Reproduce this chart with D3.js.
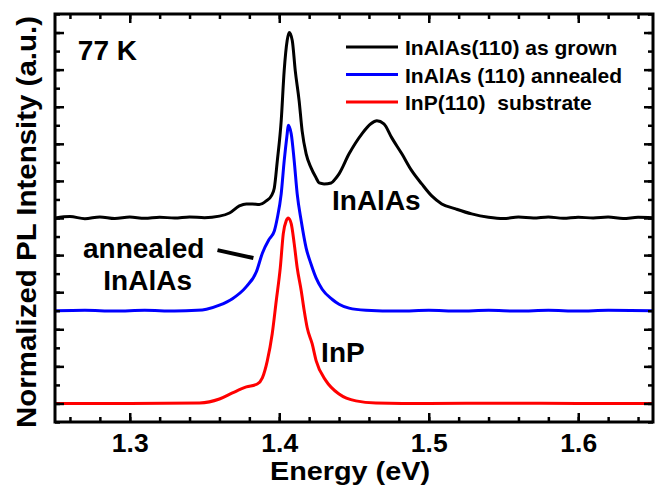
<!DOCTYPE html>
<html>
<head>
<meta charset="utf-8">
<script src="https://cdn.jsdelivr.net/npm/d3@7/dist/d3.min.js"></script>
<style>
  body { margin: 0; background: #fff; }
  text { font-family: "Liberation Sans", Arial, sans-serif; font-weight: bold; fill: #000; }
</style>
</head>
<body>
<div id="chart"></div>
<script>
// PL spectra at 77 K, each normalized to 1 and stacked by an offset
var grownE = [1.25, 1.26, 1.27, 1.28, 1.29, 1.30, 1.31, 1.32, 1.33, 1.34, 1.35, 1.36,
  1.3667, 1.3733, 1.378, 1.382, 1.3867, 1.3913, 1.3947, 1.3967, 1.3987, 1.4013, 1.4033,
  1.4053, 1.4067, 1.4087, 1.4107, 1.4133, 1.4153, 1.418, 1.4213, 1.4247, 1.4267, 1.43,
  1.4347, 1.438, 1.44, 1.4467, 1.4553, 1.4613, 1.4653, 1.47, 1.4753, 1.482, 1.4887,
  1.4953, 1.502, 1.5087, 1.518, 1.5287, 1.54, 1.55, 1.56, 1.57, 1.58, 1.59, 1.60,
  1.61, 1.62, 1.63, 1.64, 1.65];
var grownI = [0.000, 0.008, -0.004, 0.006, -0.003, 0.005, -0.002, 0.004, 0.000, 0.006, 0.002, 0.010,
  0.027, 0.065, 0.076, 0.076, 0.073, 0.092, 0.119, 0.162, 0.308, 0.524, 0.795,
  0.957, 1.000, 0.957, 0.795, 0.632, 0.470, 0.346, 0.270, 0.216, 0.189, 0.184,
  0.189, 0.216, 0.238, 0.346, 0.454, 0.508, 0.524, 0.508, 0.432, 0.346, 0.254,
  0.184, 0.119, 0.076, 0.049, 0.022, 0.004, -0.003, 0.005, 0.000, 0.006, -0.002, 0.004,
  0.000, 0.005, -0.003, 0.004, 0.002];

var annealedE = [1.25, 1.27, 1.29, 1.31, 1.33, 1.345, 1.3513, 1.36, 1.3687, 1.378, 1.3847,
  1.3887, 1.3933, 1.3967, 1.3987, 1.4013, 1.4033, 1.4053, 1.406, 1.408, 1.41, 1.412,
  1.4147, 1.418, 1.4213, 1.4247, 1.4287, 1.4353, 1.44, 1.4467, 1.458, 1.48, 1.50,
  1.52, 1.54, 1.56, 1.58, 1.60, 1.62, 1.65];
var annealedI = [0.000, 0.003, -0.002, 0.002, -0.002, 0.002, 0.008, 0.030, 0.065, 0.130, 0.210,
  0.310, 0.386, 0.430, 0.500, 0.630, 0.808, 0.954, 1.000, 0.954, 0.808, 0.630,
  0.484, 0.338, 0.251, 0.176, 0.116, 0.062, 0.035, 0.014, 0.003, -0.002, 0.002,
  -0.002, 0.002, -0.002, 0.002, -0.002, 0.002, 0.000];

var substrateE = [1.25, 1.30, 1.3467, 1.36, 1.3687, 1.378, 1.3853, 1.3887, 1.392, 1.3953,
  1.398, 1.4007, 1.4027, 1.4047, 1.406, 1.408, 1.41, 1.412, 1.4147, 1.4167, 1.4187,
  1.422, 1.4247, 1.4313, 1.44, 1.4513, 1.4647, 1.50, 1.55, 1.60, 1.65];
var substrateI = [0.000, 0.000, 0.003, 0.024, 0.057, 0.089, 0.105, 0.138, 0.230, 0.376,
  0.554, 0.732, 0.916, 0.986, 1.000, 0.970, 0.862, 0.732, 0.608, 0.500, 0.408,
  0.322, 0.230, 0.122, 0.051, 0.014, 0.003, 0.000, 0.001, 0.000, 0.000];

var seriesNames = ["InAlAs(110) as grown", "InAlAs (110) annealed", "InP(110)  substrate"];
var seriesColors = ["#000000", "#0000ff", "#ff0000"];
var seriesOffsets = [1.0, 0.5, 0.0];

var xMajor = [1.3, 1.4, 1.5, 1.6];
var xMinor = d3.range(1.26, 1.651, 0.02);
var yMajor = d3.range(0, 2.01, 0.2);
var yMinor = d3.range(-0.1, 2.11, 0.1);

var W = 658, H = 492;
var m = {left: 55, right: 5, top: 14, bottom: 70};

var svg = d3.select("#chart").append("svg")
    .attr("width", W)
    .attr("height", H);

var x = d3.scaleLinear().domain([1.25, 1.65]).range([m.left, W - m.right]);
var y = d3.scaleLinear().domain([-0.1, 2.1]).range([H - m.bottom, m.top]);

var series = [
  {E: grownE, I: grownI},
  {E: annealedE, I: annealedI},
  {E: substrateE, I: substrateI}
];

var pBottom = y(-0.1), pTop = y(2.1), pLeft = x(1.25), pRight = x(1.65);

svg.append("clipPath").attr("id", "plot-clip")
  .append("rect")
  .attr("x", pLeft).attr("y", pTop)
  .attr("width", pRight - pLeft).attr("height", pBottom - pTop);

var line = d3.line().curve(d3.curveMonotoneX);

var plot = svg.append("g").attr("clip-path", "url(#plot-clip)");
series.forEach(function (s, k) {
  var pts = s.E.map(function (e, i) { return [x(e), y(s.I[i] + seriesOffsets[k])]; });
  plot.append("path")
    .attr("d", line(pts))
    .attr("fill", "none")
    .attr("stroke", seriesColors[k])
    .attr("stroke-width", 3)
    .attr("stroke-linejoin", "round");
});

// ticks on all four sides, pointing inward
function addAxis(axis, tx, ty) {
  var g = svg.append("g").attr("transform", "translate(" + tx + "," + ty + ")").call(axis);
  g.select(".domain").remove();
  g.selectAll(".tick line").attr("stroke", "#000").attr("stroke-width", 2.5);
  return g;
}

addAxis(d3.axisBottom(x).tickValues(xMinor).tickSize(-5).tickFormat(""), 0, pBottom);
addAxis(d3.axisTop(x).tickValues(xMinor).tickSize(-5).tickFormat(""), 0, pTop);
addAxis(d3.axisTop(x).tickValues(xMajor).tickSize(-9).tickFormat(""), 0, pTop);
var xg = addAxis(d3.axisBottom(x).tickValues(xMajor).tickSize(-9).tickPadding(12)
  .tickFormat(d3.format(".1f")), 0, pBottom);
xg.selectAll(".tick text")
  .attr("font-size", 25)
  .attr("font-family", null)
  .attr("fill", "#000")
  .attr("dy", "0.71em")
  .attr("transform", "scale(1.06,1)");

addAxis(d3.axisLeft(y).tickValues(yMinor).tickSize(-5).tickFormat(""), pLeft, 0);
addAxis(d3.axisLeft(y).tickValues(yMajor).tickSize(-9).tickFormat(""), pLeft, 0);
addAxis(d3.axisRight(y).tickValues(yMinor).tickSize(-5).tickFormat(""), pRight, 0);
addAxis(d3.axisRight(y).tickValues(yMajor).tickSize(-9).tickFormat(""), pRight, 0);

svg.append("rect")
  .attr("x", pLeft).attr("y", pTop)
  .attr("width", pRight - pLeft).attr("height", pBottom - pTop)
  .attr("fill", "none")
  .attr("stroke", "#000")
  .attr("stroke-width", 3);

svg.append("text")
  .attr("x", (pLeft + pRight) / 2 - 4)
  .attr("y", 480)
  .attr("text-anchor", "middle")
  .attr("font-size", 26)
  .attr("textLength", 160)
  .attr("lengthAdjust", "spacingAndGlyphs")
  .text("Energy (eV)");

svg.append("text")
  .attr("transform", "translate(36," + ((pTop + pBottom) / 2 + 4) + ") rotate(-90)")
  .attr("text-anchor", "middle")
  .attr("font-size", 27)
  .attr("textLength", 412)
  .attr("lengthAdjust", "spacingAndGlyphs")
  .text("Normalized PL Intensity (a.u.)");

// legend
var legend = svg.append("g");
seriesNames.forEach(function (name, k) {
  var ly = 47 + k * 27.5;
  legend.append("line")
    .attr("x1", 346).attr("x2", 398)
    .attr("y1", ly).attr("y2", ly)
    .attr("stroke", seriesColors[k])
    .attr("stroke-width", 3);
  legend.append("text")
    .attr("x", 405).attr("y", ly + 8)
    .attr("font-size", 21)
    .style("white-space", "pre")
    .text(name);
});

// annotations, placed in data units
var notes = [
  {t: "77 K", E: 1.2653, v: 1.852, anchor: "start"},
  {t: "InAlAs", E: 1.4353, v: 1.043, anchor: "start"},
  {t: "annealed", E: 1.3093, v: 0.784, anchor: "middle"},
  {t: "InAlAs", E: 1.312, v: 0.612, anchor: "middle"},
  {t: "InP", E: 1.428, v: 0.2235, anchor: "start"}
];
notes.forEach(function (n) {
  svg.append("text")
    .attr("x", x(n.E)).attr("y", y(n.v))
    .attr("text-anchor", n.anchor)
    .attr("font-size", 28)
    .text(n.t);
});

svg.append("line")
  .attr("x1", x(1.3587)).attr("y1", y(0.827))
  .attr("x2", x(1.3827)).attr("y2", y(0.784))
  .attr("stroke", "#000")
  .attr("stroke-width", 4);
</script>
</body>
</html>
